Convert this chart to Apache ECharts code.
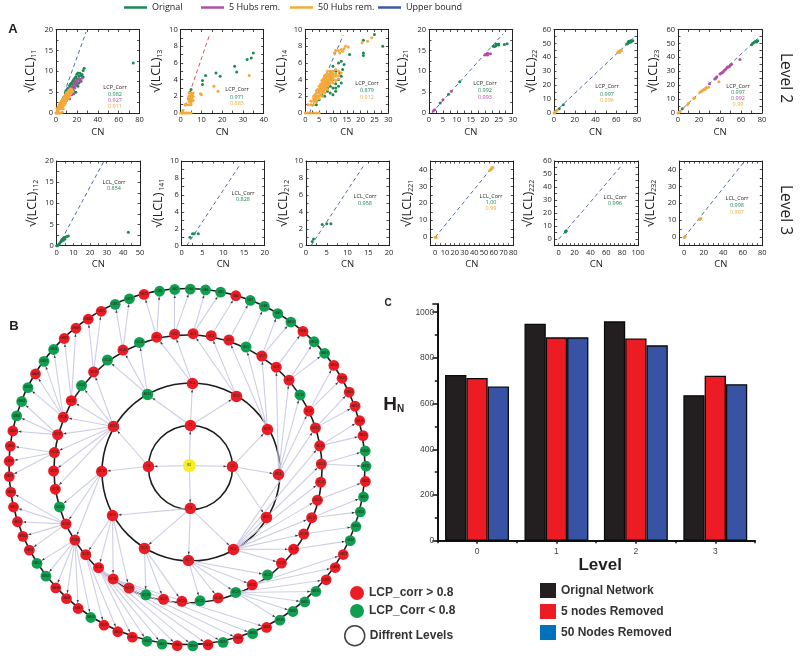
<!DOCTYPE html>
<html><head><meta charset="utf-8">
<style>html,body{margin:0;padding:0;background:#fff}#c{width:800px;height:656px}</style>
<script src="https://cdn.jsdelivr.net/npm/echarts@6/dist/echarts.min.js"></script>
</head><body><div id="c"></div>
<script>
// ---------- scatter data, [CN, sqrt(LCL)] ----------
const p11_orig=[[74,12],[27,10.7],[26,10.2],[25,9.2],[26,8.6],[24,9],[23,9.5],[22,8.8],[21,9.6],[20,9.3],[20,8.2],[19,8.7],[18,8.4],[18,7.4],[17,8],[16,7.6],[16,6.8],[15,7.2],[14,7],[14,6.2],[13,6.6],[12,6],[11,5.8],[22,7.2],[24,7.6],[21,6.4],[19,5],[20,6.8],[23,8],[17,6.2],[15,5.4],[13,5],[12,4.2],[11,3.8],[10,5.4],[9,4.8],[17,5.2]];
const p11_five=[[25,8.4],[23,7.6],[22,8.2],[21,8],[20,7.4],[19,7.6],[18,7],[18,6],[17,7],[16,6.4],[16,5.6],[15,6],[14,5.6],[14,4.6],[13,5.8],[12,5.2],[12,4],[11,4.8],[11,3.4],[10,4.6],[10,3],[9,4.2],[9,2.8],[15,4.4],[8,3.8],[8,2.4],[13,3.4],[19,6.6],[17,4.6]];
const p11_fifty=[[1,0.5],[1,1],[2,0.5],[2,1],[2,1.4],[3,1],[3,1.4],[3,1.7],[3,2],[4,1],[4,1.4],[4,1.7],[4,2],[4,2.4],[5,1],[5,1.4],[5,1.7],[5,2],[5,2.4],[5,2.8],[6,1.4],[6,2],[6,2.4],[6,2.8],[6,3.2],[7,1.7],[7,2.4],[7,2.8],[7,3.2],[7,3.6],[8,2],[8,2.8],[8,3.2],[8,3.6],[8,4],[9,2.4],[9,3.2],[9,3.6],[9,4],[9,4.4],[10,3],[10,3.6],[10,4],[10,4.4],[10,4.8],[11,3.4],[11,4],[11,4.6],[11,5],[12,3.6],[12,4.4],[12,5],[12,5.4],[13,4.2],[13,4.8],[13,5.5],[14,4.6],[14,5.2],[14,5.8],[15,5],[15,5.6],[16,5.2],[0,0],[1,0],[2,0],[3,0],[4,0],[6,0.2],[7,1]];
const p13_orig=[[35,7.2],[34,6.6],[32,6.4],[27,4.9],[26,5.6],[19,4.4],[17,4.8],[12,4.5],[10.5,3.9],[10.5,3.4],[5,2.8],[4.5,2.5]];
const p13_fifty=[[33,4.5],[18,2.6],[16,3.2],[10,2.2],[9.5,2.3],[6,1.5],[6,2],[6,2.4],[5,1],[5,1.2],[5,1.4],[5,1.7],[5,2],[5,2.2],[5,2.4],[5.5,1.7],[5.5,2.2],[4.5,1.4],[4.5,1.7],[4.5,2],[4,1],[4,1.4],[4,1.7],[4,2],[4,2.4],[3,1],[2,1],[2.5,1],[1,0],[0,0],[2,0],[3,0],[4,0],[5,0],[0.5,0],[1,0.3]];
const p14_orig=[[25,9.4],[21,8.7],[28,8],[21,7.2],[21,6.9],[16,7],[13,6.2],[12,6],[14,5.8],[13.5,5.2],[12.5,4.8],[13,4.4],[12,4],[10,4.6],[10,4],[9,4.2],[8,3.6],[7,3.2],[9,3.2],[10,3],[11,3.5],[11,3],[8,2.6],[9,2.4],[7,2],[6,2.2],[5,1.6],[4,1.4],[4,1],[6,2.8],[11,2.6],[10,2.2],[8,3],[9,5],[11,5],[10,5.6],[12,3.2],[13,3.6]];
const p14_fifty=[[24,9],[22.5,8.6],[20.5,8.4],[15.5,7.9],[14.5,8],[14,7.7],[13,7.6],[12,7.5],[11,7.5],[10.5,7.2],[12.5,7.2],[13.5,7.4],[12,5],[11,5.2],[10,5],[9,5],[8,4.7],[8,5],[7,4.5],[2,1],[2,1.4],[3,1],[3,1.4],[3,1.7],[3,2],[3.5,1.4],[3.5,1.7],[3.5,2.2],[4,1.4],[4,1.7],[4,2],[4,2.4],[4,2.7],[4.5,2],[4.5,2.4],[4.5,2.8],[5,1.7],[5,2],[5,2.4],[5,2.8],[5,3.2],[5.5,2.2],[5.5,2.6],[5.5,3],[5.5,3.4],[6,2],[6,2.4],[6,2.8],[6,3.2],[6,3.6],[6,3.9],[6.5,2.6],[6.5,3],[6.5,3.4],[6.5,3.8],[6.5,4.1],[7,2.4],[7,2.8],[7,3.2],[7,3.6],[7,4],[7,4.4],[7.5,2.9],[7.5,3.4],[7.5,3.8],[7.5,4.2],[7.5,4.6],[8,2.8],[8,3.2],[8,3.6],[8,4],[8,4.4],[8.5,3.4],[8.5,3.8],[8.5,4.2],[8.5,4.6],[9,3.6],[9,4],[9,4.4],[9,4.7],[9.5,3.9],[9.5,4.3],[9.5,4.8],[10,3.6],[10,4.1],[10,4.4],[10,4.7],[11,3.9],[11,4.4],[11,4.7],[12,4.1],[12,4.5],[13,4.8],[1,1],[0,0],[1,0],[2,0],[3,0],[4,0],[5,0]];
const p21_orig=[[28,16.6],[27,16.4],[25,16.5],[24.5,16.4],[24,16.1],[23.5,15.9],[23,16],[24,16.5],[25,16.3],[11,7.5],[7,4.5],[4,2.4]];
const p21_five=[[22,14.2],[21,14.3],[20.5,14],[20,13.9],[21,13.9],[8,5.2],[5,3.2],[2,0.8],[1.5,0.5]];
const p22_orig=[[76,52],[75,51.5],[74,51],[73,51],[72,50.5],[71,50],[70,49.5],[74,52],[72,51.5],[9,6],[5,3]];
const p22_fifty=[[65,45],[64,44.5],[63,44.5],[62,44],[61.5,43.5],[63,43.5],[3,2],[2,1.5],[1,0.5],[0,0]];
const p23_orig=[[76,52],[75,51],[74,51.5],[73,51],[72,50.5],[71,50],[70,49],[4,3]];
const p23_five=[[59,38.5],[51,35],[50,34.5],[49,33.5],[48,33],[47,33],[46,32],[45,31],[44,30.5],[43,29.5],[42,29],[41,28.5],[40,28],[37,26],[36,25],[35,24.5],[30,21]];
const p23_fifty=[[39,22.5],[29,18.5],[27,18],[26,17],[25,17],[24,16.5],[23,16],[22,15.5],[21,15],[16,11],[15,10.5],[10,7],[9,6],[1,0.5],[0,0],[2,1]];
const p112_orig=[[43,3.2],[7,2.3],[6,2.2],[5,2],[4.5,1.9],[4,1.7],[3.5,1.5],[3,1.4],[2.5,1],[2,0.7],[1.5,0.4],[1,0.2],[0.5,0],[0,0],[3,1.1],[4,1.3],[5,1.6]];
const p141_orig=[[4,1.4],[3,1.4],[2.6,1.4],[2,1]];
const p212_orig=[[3.9,2.5],[5,2.6],[6,2.6],[1.8,0.8],[1.5,0.5]];
const p221_fifty=[[58,40.5],[57,40],[56,39.5],[58,41],[59,41],[0,0],[1,0]];
const p222_orig=[[9,6],[9.5,6.5],[8.5,5.5]];
const p232_fifty=[[17,11],[16,10.5],[0,0],[1,0.5],[0.5,0]];
// upper-bound ends [CN, sqrt(LCL)]
const bound_p11=[[1,0],[28.8,19.4]], bound_p13=[[1,0],[14.1,9.5]], bound_p14=[[1.5,0],[13.7,9.3]], bound_p21=[[1,0],[26.6,19]], bound_p22=[[0,0],[78,55]], bound_p23=[[0,0],[78,55]];
const bound_p112=[[1,0],[28.4,20]], bound_p141=[[1.2,0],[13.9,9.45]], bound_p212=[[1.2,0],[13.9,9.45]], bound_p221=[[0,0],[59.5,42]], bound_p222=[[0,0],[80,57]], bound_p232=[[0,0],[62,45]];
// ---------- bars ----------
const levels=['0','1','2','3'];
const barsOrig=[725,950,960,637];
const bars5=[712,890,885,722];
const bars50=[675,890,855,685];
// ---------- network: [radius in level units, angle in degrees clockwise from top] ----------
const ring1=[[0.946,4],[1.01,88.7],[0.92,176],[0.877,271.5]];
const ring2=[[1.89,3.4],[1.94,34.6],[1.99,64.6],[2.05,94.4],[2.10,122.3],[2.11,150.7],[2.09,179.4],[2.06,208],[2.0,237.4],[1.93,267.3],[1.90,299],[1.87,331.3]];
const ring2Parent=[0,0,1,1,1,2,2,2,2,3,3,0];
const ring3Angle=[346.7,354.5,2.4,10.2,18.0,25.9,33.7,41.5,49.3,57.2,65.0,72.8,80.7,88.5,96.3,104.1,112.0,119.8,127.6,135.5,143.3,151.1,158.9,166.8,174.6,182.4,190.3,198.1,205.9,213.7,221.6,229.4,237.2,245.1,252.9,260.7,268.5,276.4,284.2,292.0,299.9,307.7,315.5,323.3,331.2,339.0];
const ring3Color='RRRRRGRRRGRRRRRRRRRRGRGRGRRGRRRRRRGRRRRRRGRGRG';
const ring3Parent=[0,0,1,1,2,2,2,3,3,3,3,5,5,5,5,5,5,5,5,5,6,6,6,6,6,7,7,7,8,8,8,8,9,9,9,10,10,10,10,10,10,10,10,11,11,11];
const ring4Angle=[351.0,355.9,0.9,5.8,10.7,15.7,20.6,25.5,30.4,35.4,40.3,45.2,50.2,55.1,60.0,65.0,69.9,74.8,79.7,84.7,89.6,94.5,99.5,104.4,109.3,114.2,119.2,124.1,129.0,134.0,138.9,143.8,148.8,153.7,158.6,163.5,168.5,173.4,178.3,183.3,188.2,193.1,198.0,203.0,207.9,212.8,217.8,222.7,227.6,232.5,237.5,242.4,247.3,252.3,257.2,262.1,267.1,272.0,276.9,281.8,286.8,291.7,296.6,301.6,306.5,311.4,316.3,321.3,326.2,331.1,336.1,341.0,345.9];
const ring4Color='GGGGGRGGGGRGGRRRRRRGGRGGGGRRRGGGGRGRGRGRGGRRRGRRRGGRRRRRRRRRGGGRGGRRRRGGR';
const ring4Parent=[0,1,1,2,2,3,4,5,6,6,7,8,8,10,10,11,11,12,12,13,13,15,16,16,17,18,21,21,22,22,22,22,22,29,29,29,29,30,30,30,30,30,30,31,31,32,32,32,32,32,32,33,33,33,33,33,37,37,37,38,38,38,39,39,39,39,40,40,42,42,44,44,0];
// ---------- text ----------
const legendTop=['Orignal','5 Hubs rem.','50 Hubs rem.','Upper bound'];
const C={g:'#1b8a54',m:'#b04fa5',o:'#f4a93b',b:'#3d5aa0',r:'#d8403c'};
const panels=[
{sub:'11',x:[0,80,20,20],y:[0,20,5,5],g:[56,29.5,83.5,83.5],gap:19,s:[p11_orig,p11_five,p11_fifty],b:bound_p11,h:'LCP_Corr',v:['0.982','0.927','0.911'],c:['g','m','o'],t:[115,87,94,100.7,106.7]},
{sub:'13',x:[0,40,10,10],y:[0,10,2,2],g:[180.7,29.5,83,83.5],gap:17,s:[p13_orig,[],p13_fifty],b:bound_p13,br:1,h:'LCP_Corr',v:['0.971','0.885'],c:['g','o'],t:[237,89,97,103]},
{sub:'14',x:[0,30,5,5],y:[0,10,2,2],g:[305.3,29.5,83,83.5],gap:17,s:[p14_orig,[],p14_fifty],b:bound_p14,h:'LCP_Corr',v:['0.879','0.912'],c:['g','o'],t:[367,83,90,97]},
{sub:'21',x:[0,30,5,5],y:[0,20,5,5],g:[429,29.5,83.7,83.5],gap:20,s:[p21_orig,p21_five,[]],b:bound_p21,h:'LCP_Corr',v:['0.992','0.993'],c:['g','m'],t:[485,83,90,97]},
{sub:'22',x:[0,80,20,20],y:[0,60,10,10],g:[554,29.5,83,83.5],gap:8,s:[p22_orig,[],p22_fifty],b:bound_p22,h:'LCP_Corr',v:['0.997','0.996'],c:['g','o'],t:[607,86,94,100]},
{sub:'23',x:[0,80,20,20],y:[0,60,10,10],g:[678,29.5,84,83.5],gap:18,s:[p23_orig,p23_five,p23_fifty],b:bound_p23,h:'LCP_Corr',v:['0.997','0.992','0.99'],c:['g','m','o'],t:[738,86,92,98,104]},
{sub:'112',x:[0,50,10,10],y:[0,20,5,5],g:[56.7,161,83.3,84.7],gap:17,s:[p112_orig,[],[]],b:bound_p112,h:'LCL_Corr',v:['0.854'],c:['g'],t:[114,182,188]},
{sub:' 141',x:[0,20,5,5],y:[0,10,2,2],g:[181.7,161,83,84.7],gap:16,s:[p141_orig,[],[]],b:bound_p141,h:'LCL_Corr',v:['0.828'],c:['g'],t:[243,193,199]},
{sub:'212',x:[0,20,5,5],y:[0,10,2,2],g:[306,161,83,84.7],gap:16,s:[p212_orig,[],[]],b:bound_p212,h:'LCL_Corr',v:['0.958'],c:['g'],t:[365,196,203]},
{sub:'221',x:[-5,80,5,10],y:[-5,45,5,10],g:[430.3,161,83,84.7],gap:16,s:[[],[],p221_fifty],b:bound_p221,h:'LCL_Corr',v:['1.00','0.99'],c:['g','o'],t:[491,196,202,208]},
{sub:'222',x:[-5,100,5,20],y:[-5,60,5,10],g:[554.7,161,83.3,84.7],gap:19,s:[p222_orig,[],[]],b:bound_p222,h:'LCL_Corr',v:['0.996'],c:['g'],t:[615,197,203]},
{sub:'232',x:[-5,80,5,20],y:[-5,45,5,10],g:[679.3,161,83,84.7],gap:22,s:[[],[],p232_fifty],b:bound_p232,h:'LCL_Corr',v:['0.998','0.997'],c:['g','o'],t:[737,198,205,212]}
];
const FONT='"Open Sans"', BFONT='"Liberation Sans"';
const grid=[],xAxis=[],yAxis=[],series=[],graphic=[];
function axisCfg(a,idx,main,extra){
  const minor=a[2]===a[3];
  return Object.assign({type:'value',gridIndex:idx,min:a[0],max:a[1],interval:minor?a[2]/2:a[2],
    axisLine:{show:true,onZero:false,lineStyle:{color:'#222',width:1}},
    axisTick:{show:true,inside:true,length:2.5,lineStyle:{color:'#222',width:0.8}},
    splitLine:{show:false},
    axisLabel:{show:main,fontFamily:FONT,fontSize:7.5,color:'#222',margin:3,hideOverlap:false,
      formatter:v=>(v%a[3]===0 && v>=0)?String(v):''}},extra);
}
panels.forEach((p,i)=>{
  grid.push({left:p.g[0],top:p.g[1],width:p.g[2],height:p.g[3],containLabel:false});
  xAxis.push(axisCfg(p.x,i,true,{position:'bottom',name:'CN',nameLocation:'middle',nameGap:14,nameTextStyle:{fontFamily:FONT,fontSize:9.5,color:'#222'}}));
  xAxis.push(axisCfg(p.x,i,false,{position:'top'}));
  yAxis.push(axisCfg(p.y,i,true,{position:'left',name:'{a|√(LCL)}{b|'+p.sub+'}',nameLocation:'middle',nameGap:p.gap,
    nameTextStyle:{fontFamily:FONT,color:'#222',rich:{a:{fontFamily:FONT,fontSize:12.5,color:'#222'},b:{fontFamily:FONT,fontSize:7,color:'#222',verticalAlign:'bottom',padding:[7,0,0,0]}}}}));
  yAxis.push(axisCfg(p.y,i,false,{position:'right'}));
  const ax={xAxisIndex:i*2,yAxisIndex:i*2};
  series.push(Object.assign({type:'line',name:'Upper bound',data:p.b,showSymbol:false,symbol:'none',z:2,
    lineStyle:{color:p.br?C.r:C.b,width:0.9,type:[4,3]},itemStyle:{color:C.b}},ax));
  [['Orignal',C.g],['5 Hubs rem.',C.m],['50 Hubs rem.',C.o]].forEach((s,j)=>{
    if(p.s[j].length) series.push(Object.assign({type:'scatter',name:s[0],data:p.s[j],symbolSize:3,itemStyle:{color:s[1],opacity:1},z:3+j},ax));
  });
  graphic.push({type:'text',x:p.t[0],y:p.t[1],z:20,style:{text:p.h,font:'5.5px '+FONT,fill:'#222',textAlign:'center',textVerticalAlign:'middle'}});
  p.v.forEach((v,k)=>graphic.push({type:'text',x:p.t[0],y:p.t[2+k],z:20,style:{text:v,font:'5.5px '+FONT,fill:C[p.c[k]],textAlign:'center',textVerticalAlign:'middle'}}));
});
// bar chart
const bi=panels.length;
grid.push({left:437.3,top:304,width:317.7,height:236.7});
xAxis.push({type:'category',gridIndex:bi,data:levels,position:'bottom',name:'Level',nameLocation:'middle',nameGap:16,
  nameTextStyle:{fontFamily:BFONT,fontWeight:'bold',fontSize:17,color:'#231f20',padding:[0,0,0,8]},
  axisLine:{lineStyle:{color:'#111',width:2}},axisTick:{show:true,length:2.5,lineStyle:{color:'#111',width:1.5}},
  axisLabel:{fontFamily:BFONT,fontSize:8.5,color:'#444',margin:6}});
xAxis.push({type:'category',gridIndex:bi,data:levels,position:'bottom',axisLine:{show:false},axisLabel:{show:false},
  axisTick:{show:true,alignWithLabel:true,length:3,lineStyle:{color:'#111',width:1.5}}});
yAxis.push({type:'value',gridIndex:bi,min:0,max:1036,interval:200,
  name:'{a|H}{b|N}',nameLocation:'middle',nameRotate:0,nameGap:33,
  nameTextStyle:{padding:[0,0,36,0],rich:{a:{fontFamily:BFONT,fontWeight:'bold',fontSize:19,color:'#231f20'},b:{fontFamily:BFONT,fontWeight:'bold',fontSize:10,color:'#231f20',verticalAlign:'bottom',padding:[8,0,0,0]}}},
  axisLine:{show:true,lineStyle:{color:'#111',width:2}},axisTick:{show:true,length:5,lineStyle:{color:'#111',width:1.5}},
  minorTick:{show:true,splitNumber:2,length:2.5,lineStyle:{color:'#111',width:1.5}},
  splitLine:{show:false},axisLabel:{fontFamily:BFONT,fontSize:8.5,color:'#444',margin:3,formatter:v=>String(v)}});
[['Orignal Network',barsOrig,'#231f20'],['5 nodes Removed',bars5,'#ed1c24'],['50 Nodes Removed',bars50,'#3953a4']].forEach(s=>{
  series.push({type:'bar',name:s[0],data:s[1],xAxisIndex:bi*2,yAxisIndex:bi*2,barWidth:21.3,barGap:0,
    itemStyle:{color:s[2],borderColor:'#0a0a0a',borderWidth:1.3}});
});
// network
const nodes=[],links=[];
const RED='LCP_corr > 0.8',GREEN='LCP_Corr < 0.8';
function add(name,r,a,cat,size,extra){nodes.push(Object.assign({name,value:[r,a],category:cat,symbolSize:size},extra||{}));return nodes.length-1;}
const center=add('B1',0.06,45,0,13,{itemStyle:{color:'#f6ee22'}});
const r1=ring1.map((v,i)=>add('C'+(i+1),v[0],v[1],0,11.5));
const r2=ring2.map((v,i)=>add('BC'+(i+1),v[0],v[1],i===11?1:0,11.5));
const r3=ring3Angle.map((a,i)=>add('GC'+(i+1),3.01,a,ring3Color[i]==='G'?1:0,11));
const r4=ring4Angle.map((a,i)=>add('GB'+(i+1),4.01,a,ring4Color[i]==='G'?1:0,10.8));
r1.forEach(n=>links.push({source:center,target:n}));
r2.forEach((n,i)=>links.push({source:r1[ring2Parent[i]],target:n}));
r3.forEach((n,i)=>links.push({source:r2[ring3Parent[i]],target:n}));
r4.forEach((n,i)=>links.push({source:r3[ring4Parent[i]],target:n}));
series.push({type:'graph',coordinateSystem:'polar',polarIndex:0,layout:'none',data:nodes,links:links,roam:false,z:5,
  categories:[{name:RED,itemStyle:{color:'#ed1c24'}},{name:GREEN,itemStyle:{color:'#0f9f4f'}}],
  lineStyle:{color:'#cdcee6',width:1.1,opacity:1,curveness:0},
  label:{show:true,position:'inside',formatter:'{b}',fontSize:3,color:'#222',fontFamily:BFONT},
  emphasis:{disabled:true}});
// arrow heads: sit on each link just outside its target node
const UNIT=44.5, arrows=links.map(l=>{
  const s=nodes[l.source],t=nodes[l.target],R=Math.PI/180;
  const sx=s.value[0]*Math.sin(s.value[1]*R),sy=-s.value[0]*Math.cos(s.value[1]*R);
  const tx=t.value[0]*Math.sin(t.value[1]*R),ty=-t.value[0]*Math.cos(t.value[1]*R);
  const len=Math.hypot(tx-sx,ty-sy),back=(t.symbolSize/2+1.6)/UNIT;
  const px=tx-(tx-sx)/len*back,py=ty-(ty-sy)/len*back;
  return {value:[Math.hypot(px,py),Math.atan2(px,-py)/R],symbolRotate:-Math.atan2(tx-sx,-(ty-sy))/R};
});
series.push({type:'scatter',coordinateSystem:'polar',polarIndex:0,name:'Arrow heads',data:arrows,symbol:'triangle',symbolSize:[2.2,3],silent:true,z:6,itemStyle:{color:'#33333f',opacity:1}});
series.push({type:'scatter',coordinateSystem:'polar',polarIndex:0,name:'Diffrent Levels',data:[],itemStyle:{color:'transparent',borderColor:'#111',borderWidth:2}});
// rings and polar systems
const polar=[{center:[187.5,467.5],radius:186.9}];
const angleAxis=[{polarIndex:0,type:'value',min:0,max:360,startAngle:90,clockwise:true,show:false}];
const radiusAxis=[{polarIndex:0,type:'value',min:0,max:4.2,show:false}];
[[190.5,467.5,42],[191,472,89],[188,469,134],[187,466.5,178]].forEach((r,i)=>{
  polar.push({center:[r[0],r[1]],radius:r[2]});
  angleAxis.push({polarIndex:i+1,type:'value',min:0,max:360,show:false});
  radiusAxis.push({polarIndex:i+1,type:'value',min:0,max:1,interval:1,axisLine:{show:false},axisTick:{show:false},axisLabel:{show:false},
    splitLine:{show:true,lineStyle:{color:'#1d1d1d',width:1.6}}});
});
// legends
const legend=[];
[[124,C.g],[201,C.m],[290,C.o],[378,C.b]].forEach((l,i)=>legend.push({left:l[0],top:3,padding:0,icon:'rect',itemWidth:23,itemHeight:2.5,
  selectedMode:false,data:[{name:legendTop[i],itemStyle:{color:l[1]}}],textStyle:{fontFamily:FONT,fontSize:9,color:'#222'}}));
legend.push({left:350,top:586,padding:0,orient:'vertical',icon:'circle',itemWidth:14,itemHeight:14,itemGap:4,selectedMode:false,
  data:[RED,GREEN],textStyle:{fontFamily:BFONT,fontWeight:'bold',fontSize:12,color:'#333'}});
legend.push({left:344,top:625,padding:0,icon:'circle',itemWidth:20,itemHeight:20,selectedMode:false,
  data:[{name:'Diffrent Levels',itemStyle:{color:'#fff',borderColor:'#111',borderWidth:1.5}}],textStyle:{fontFamily:BFONT,fontWeight:'bold',fontSize:12,color:'#333'}});
legend.push({left:540,top:583,padding:0,orient:'vertical',icon:'rect',itemWidth:16,itemHeight:15,itemGap:6,selectedMode:false,
  data:[{name:'Orignal Network',itemStyle:{color:'#231f20',borderWidth:0}},{name:'5 nodes Removed',itemStyle:{color:'#ed1c24',borderWidth:0}},{name:'50 Nodes Removed',itemStyle:{color:'#0072bc',borderWidth:0}}],
  textStyle:{fontFamily:BFONT,fontWeight:'bold',fontSize:12,color:'#333'}});
// free text
[['A',13,29,13,'bold'],['B',14,326,13,'bold'],['C',388,303,10,'bold']].forEach(t=>graphic.push({type:'text',x:t[1],y:t[2],style:{text:t[0],font:t[4]+' '+t[3]+'px '+BFONT,fill:'#222',textAlign:'center',textVerticalAlign:'middle'}}));
[['Level 2',785,78],['Level 3',785,210]].forEach(t=>graphic.push({type:'text',x:t[1],y:t[2],rotation:-Math.PI/2,style:{text:t[0],font:'15.5px '+FONT,fill:'#222',textAlign:'center',textVerticalAlign:'middle'}}));
const chart=echarts.init(document.getElementById('c'),null,{renderer:'canvas'});
chart.setOption({animation:false,backgroundColor:'#fff',grid,xAxis,yAxis,polar,angleAxis,radiusAxis,legend,series,graphic});
</script></body></html>
